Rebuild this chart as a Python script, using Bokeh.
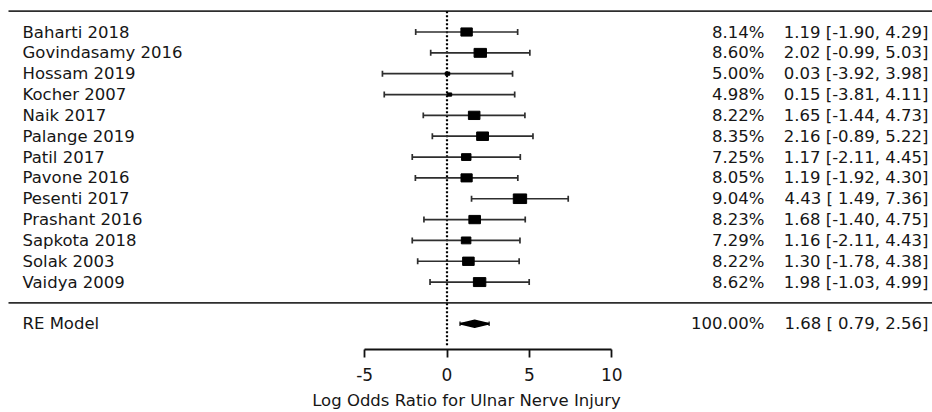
from bokeh.plotting import figure
from bokeh.models import Range1d, LinearAxis, FixedTicker, ColumnDataSource
from bokeh.core.properties import value
from bokeh.embed import file_html
from bokeh.resources import INLINE

# ---- data ----
studies = ["Baharti 2018", "Govindasamy 2016", "Hossam 2019", "Kocher 2007",
           "Naik 2017", "Palange  2019", "Patil 2017", "Pavone 2016",
           "Pesenti 2017", "Prashant 2016", "Sapkota 2018", "Solak 2003",
           "Vaidya 2009"]
weights = [8.14, 8.60, 5.00, 4.98, 8.22, 8.35, 7.25, 8.05, 9.04, 8.23, 7.29, 8.22, 8.62]
estimates = [1.19, 2.02, 0.03, 0.15, 1.65, 2.16, 1.17, 1.19, 4.43, 1.68, 1.16, 1.30, 1.98]
ci_lower = [-1.90, -0.99, -3.92, -3.81, -1.44, -0.89, -2.11, -1.92, 1.49, -1.40, -2.11, -1.78, -1.03]
ci_upper = [4.29, 5.03, 3.98, 4.11, 4.73, 5.22, 4.45, 4.30, 7.36, 4.75, 4.43, 4.38, 4.99]
model_label = "RE Model"
model_weight = 100.00
model_est = 1.68
model_lower = 0.79
model_upper = 2.56
x_ticks = [-5, 0, 5, 10]
x_tick_labels = ["-5", "0", "5", "10"]
x_title = "Log Odds Ratio for Ulnar Nerve Injury"

# ---- layout constants ----
W, H = 932, 412
FRAME_H = 350
PX_PER_UNIT = 16.47
X0_PX = 446.5
ROW_PX = 20.9
ROW0_PX = 303.3

def px_to_x(px):
    return (px - X0_PX) / PX_PER_UNIT

FONT = "DejaVu Sans"
FS = "16.5px"
TXT = "#161616"
LINE = "#2e2e2e"

k = len(studies)
rows = list(range(k, 0, -1))

p = figure(width=W, height=H, output_backend="svg", toolbar_location=None,
           min_border_left=0, min_border_right=0, min_border_top=0,
           min_border_bottom=H - FRAME_H, x_axis_type=None, y_axis_type=None)
p.x_range = Range1d(px_to_x(0), px_to_x(W))
p.y_range = Range1d(-(FRAME_H - ROW0_PX) / ROW_PX, ROW0_PX / ROW_PX)
p.xgrid.visible = False
p.ygrid.visible = False
p.outline_line_color = None
p.background_fill_color = "white"
p.border_fill_color = "white"

# horizontal rules (top and separator)
p.segment(x0=[px_to_x(8)] * 2, y0=[k + 1, 0], x1=[px_to_x(W)] * 2, y1=[k + 1, 0],
          line_color=LINE, line_width=1.8)

# reference dotted line at 0
p.segment(x0=[0], y0=[k + 1], x1=[0], y1=[-(347 - ROW0_PX) / ROW_PX],
          line_color="#000000", line_width=2.2, line_dash="2 2")

# CIs
tick_h = 3.0 / ROW_PX
wmin, wmax = min(weights), max(weights)
psize = [(w - wmin) / (wmax - wmin) + 0.5 for w in weights]
src = ColumnDataSource(dict(
    y=rows, est=estimates, lo=ci_lower, hi=ci_upper,
    ylo=[r - tick_h for r in rows], yhi=[r + tick_h for r in rows],
    sw=[8.9 * s for s in psize], sh=[6.4 * s for s in psize]))
p.segment(x0="lo", y0="y", x1="hi", y1="y", source=src, line_color=LINE, line_width=1.7)
p.segment(x0="lo", y0="ylo", x1="lo", y1="yhi", source=src, line_color=LINE, line_width=1.7)
p.segment(x0="hi", y0="ylo", x1="hi", y1="yhi", source=src, line_color=LINE, line_width=1.7)

# squares sized by weight (metafor-style psize)
p.rect(x="est", y="y", width="sw", height="sh", width_units="screen",
       height_units="screen", source=src, fill_color="black", line_color="black")

# summary diamond
dh = 3.4 / ROW_PX
p.patch([model_lower, model_est, model_upper, model_est], [-1, -1 + dh, -1, -1 - dh],
        fill_color="black", line_color="black", line_width=1.6)
eh = 2.2 / ROW_PX
p.segment(x0=[model_lower, model_upper], y0=[-1 - eh] * 2, x1=[model_lower, model_upper],
          y1=[-1 + eh] * 2, line_color=LINE, line_width=1.4)
p.segment(x0=[model_lower], y0=[-1], x1=[model_upper], y1=[-1],
          line_color="black", line_width=2)

# texts
all_rows = rows + [-1]
p.text(x=[px_to_x(22)] * (k + 1), y=all_rows, text=studies + [model_label],
       text_font=value(FONT), text_font_size=FS, text_color=TXT,
       text_align="left", text_baseline="middle")
pct = [f"{w:.2f}%" for w in weights] + [f"{model_weight:.2f}%"]
p.text(x=[px_to_x(764)] * (k + 1), y=all_rows, text=pct,
       text_font=value(FONT), text_font_size=FS, text_color=TXT,
       text_align="right", text_baseline="middle")
ests = [f"{e:.2f} [{l:5.2f}, {h:.2f}]" for e, l, h in zip(estimates, ci_lower, ci_upper)]
ests.append(f"{model_est:.2f} [{model_lower:5.2f}, {model_upper:.2f}]")
ests = [s.replace("[ ", "[\u00a0") for s in ests]
p.text(x=[px_to_x(928)] * (k + 1), y=all_rows, text=ests,
       text_font=value(FONT), text_font_size=FS, text_color=TXT,
       text_align="right", text_baseline="middle")

# x axis
ax = LinearAxis(ticker=FixedTicker(ticks=x_ticks), bounds=(min(x_ticks), max(x_ticks)))
ax.major_label_overrides = {t: s for t, s in zip(x_ticks, x_tick_labels)}
ax.axis_line_color = "#111111"
ax.axis_line_width = 1.8
ax.major_tick_line_color = "#111111"
ax.major_tick_line_width = 1.8
ax.major_tick_in = 0
ax.major_tick_out = 8
ax.minor_tick_line_color = None
ax.major_label_text_font = FONT
ax.major_label_text_font_size = "17px"
ax.major_label_text_color = TXT
ax.major_label_standoff = 10
ax.axis_label = x_title
ax.axis_label_text_font = FONT
ax.axis_label_text_font_size = "16.5px"
ax.axis_label_text_font_style = "normal"
ax.axis_label_text_color = TXT
ax.axis_label_standoff = 7
p.add_layout(ax, "below")

open("out.html", "w").write(file_html(p, INLINE))
